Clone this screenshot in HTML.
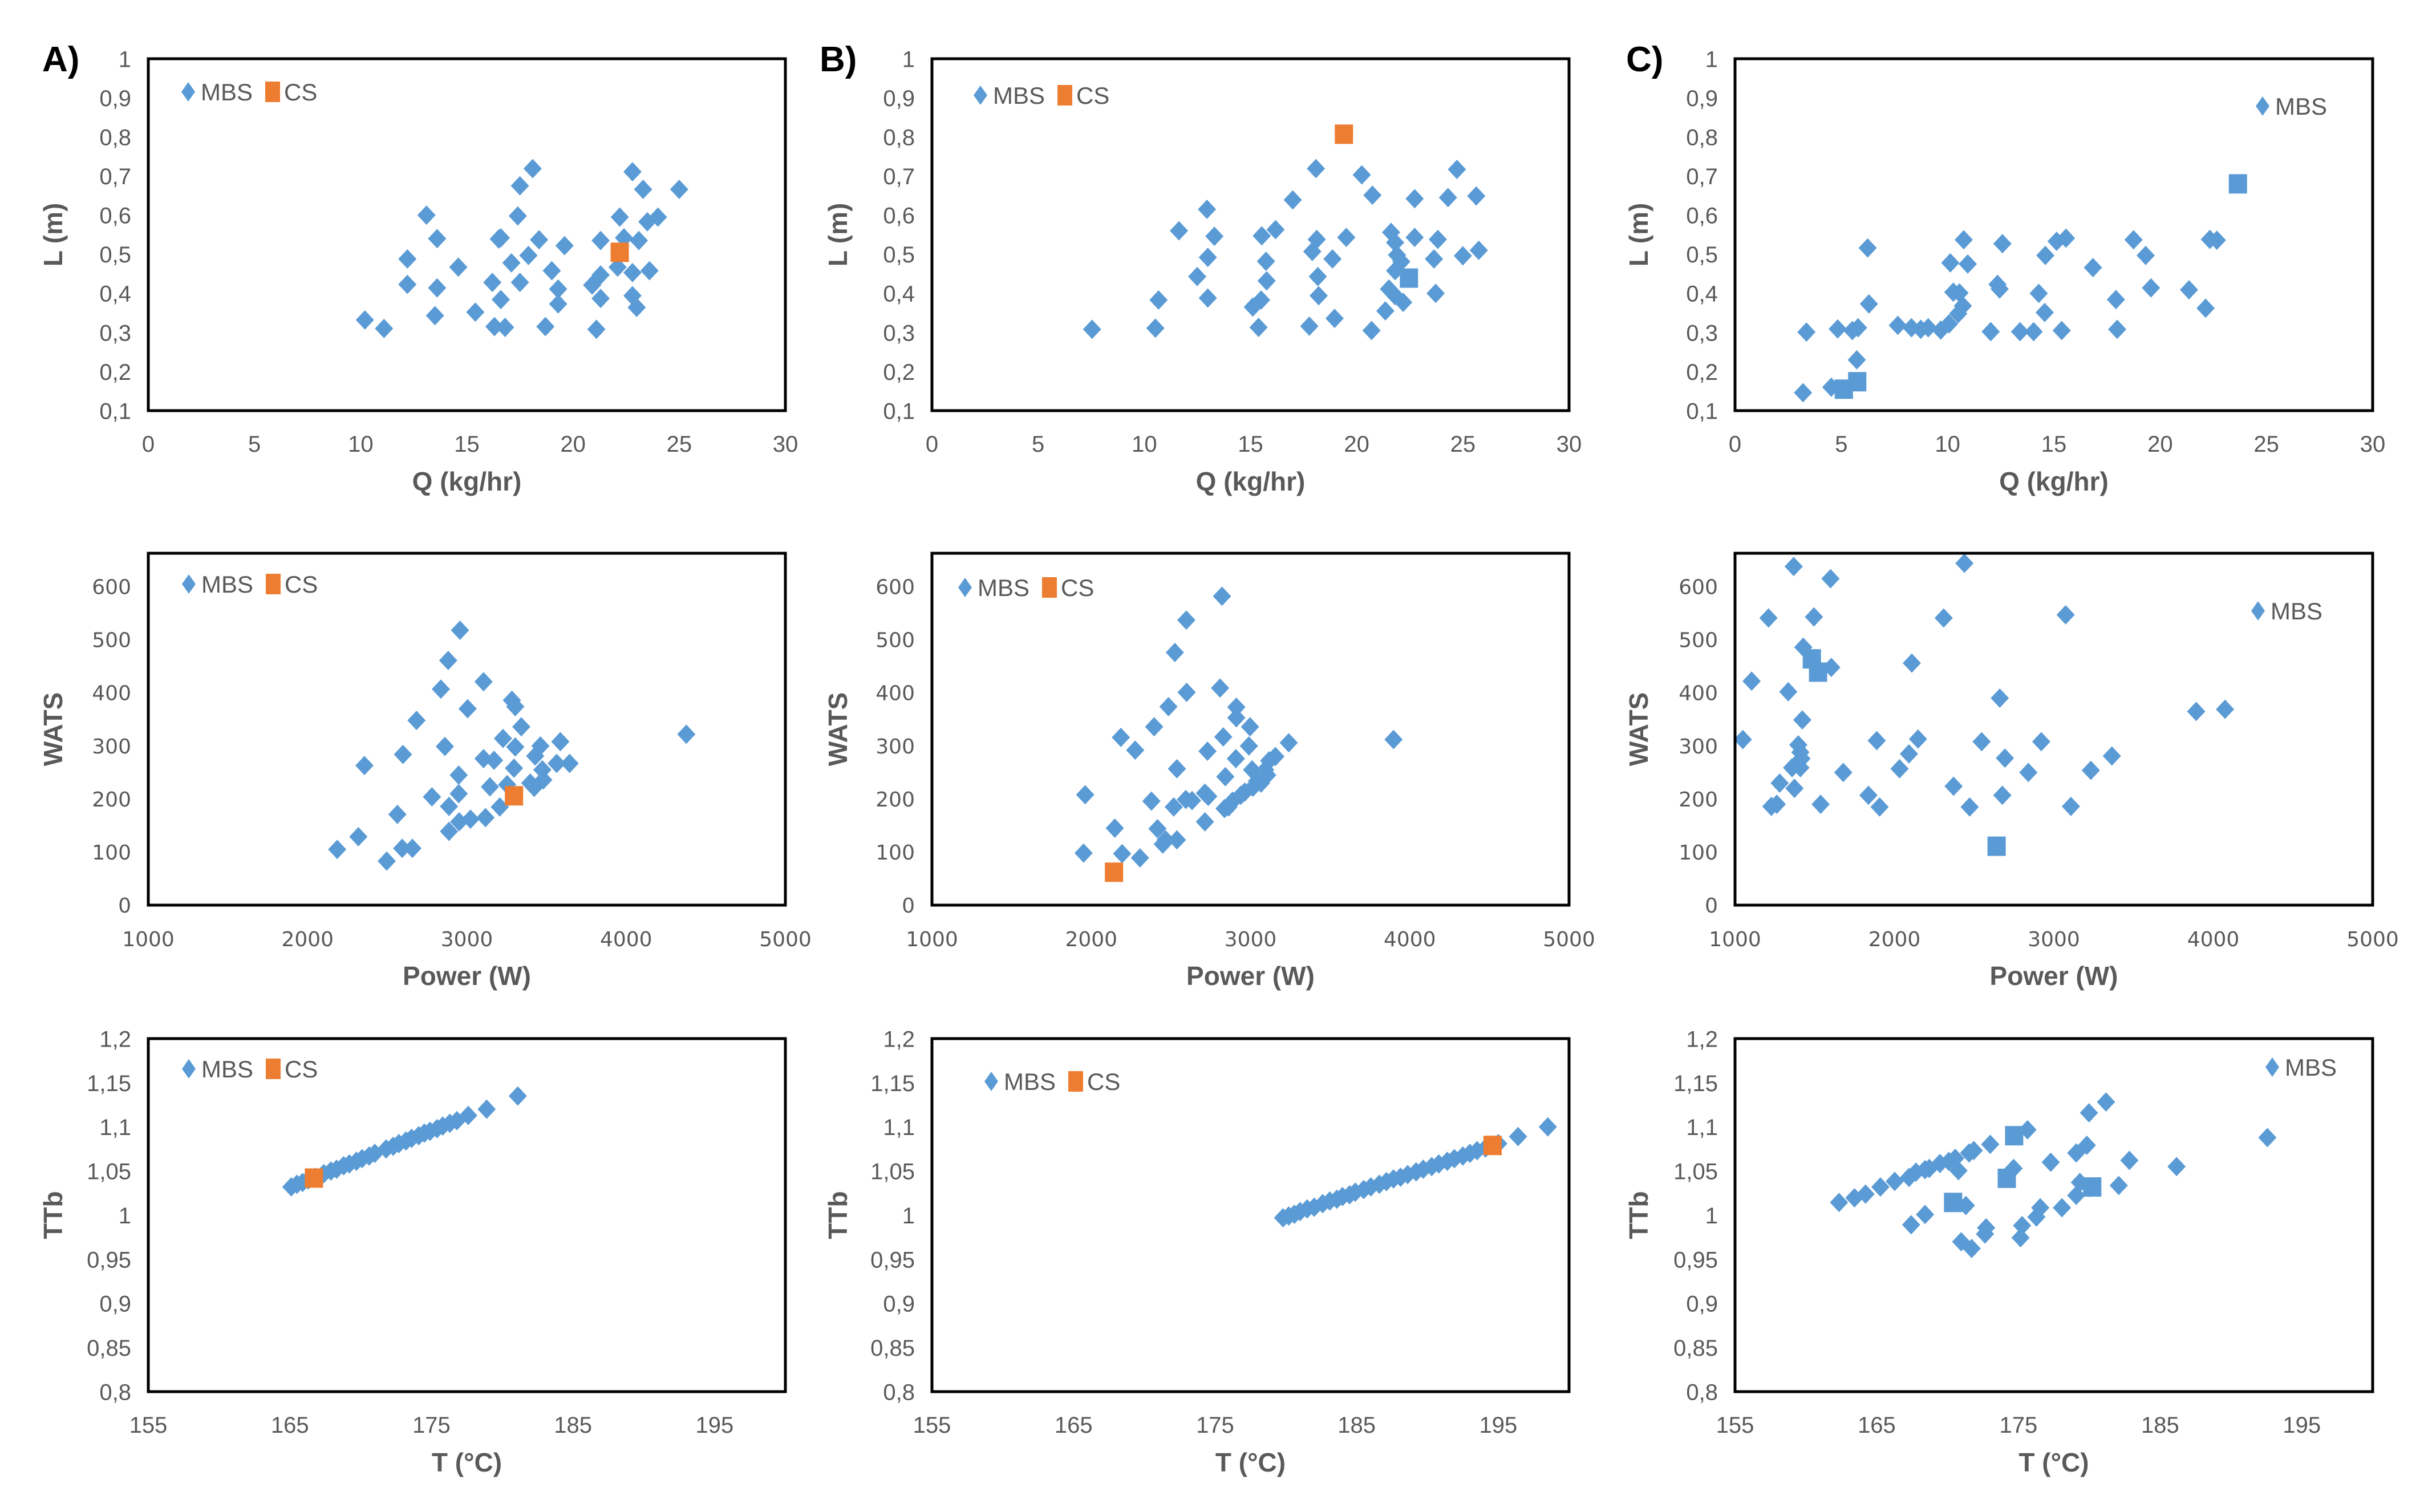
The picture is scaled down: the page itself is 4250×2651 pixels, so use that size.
<!DOCTYPE html>
<html><head><meta charset="utf-8"><style>
html,body{margin:0;padding:0;background:#fff;}
svg{display:block;}
</style></head><body>
<svg id="fig" xmlns="http://www.w3.org/2000/svg" width="4250" height="2651" viewBox="0 0 4250 2651">
<rect width="4250" height="2651" fill="#fff"/>
<g id="root"></g>
</svg>
<script>
// ---------- DATA ----------
const a1Q=[10.2,11.1,12.2,12.2,13.1,13.6,13.6,13.5,14.6,15.4,16.2,16.3,16.5,16.6,16.6,16.8,17.1,17.5,17.4,17.5,17.9,18.1,18.4,18.7,19.0,19.3,19.3,19.6,20.9,21.1,21.3,21.3,21.3,22.1,22.2,22.4,22.8,22.8,22.8,23.0,23.1,23.3,23.5,23.6,24.0,25.0];
const a1L=[0.332,0.310,0.488,0.423,0.600,0.540,0.414,0.343,0.467,0.352,0.428,0.315,0.539,0.542,0.384,0.313,0.478,0.675,0.598,0.428,0.497,0.719,0.537,0.315,0.458,0.411,0.373,0.522,0.421,0.308,0.535,0.447,0.387,0.467,0.595,0.542,0.711,0.453,0.394,0.364,0.535,0.666,0.583,0.458,0.595,0.666];
const a1csQ=[22.2]; const a1csL=[0.505];

const b1Q=[7.54,10.52,10.67,11.63,12.49,12.95,12.99,12.99,13.30,15.11,15.50,15.38,15.53,15.73,15.76,16.18,16.99,17.77,17.91,18.08,18.12,18.17,18.21,18.86,18.96,19.51,20.24,20.74,20.70,21.35,21.52,21.81,22.19,21.62,21.81,21.90,22.10,21.81,22.73,22.73,23.64,23.72,23.82,24.30,24.72,25.00,25.63,25.75];
const b1L=[0.308,0.311,0.383,0.560,0.443,0.615,0.492,0.388,0.546,0.365,0.383,0.313,0.547,0.482,0.432,0.563,0.639,0.316,0.507,0.719,0.538,0.443,0.394,0.488,0.336,0.543,0.703,0.651,0.305,0.355,0.411,0.394,0.377,0.556,0.530,0.498,0.481,0.458,0.642,0.543,0.488,0.400,0.538,0.645,0.717,0.496,0.649,0.510];
const b1sqQ=[22.46]; const b1sqL=[0.439];
const b1csQ=[19.40]; const b1csL=[0.807];

const c1Q=[3.20,4.53,3.36,4.83,5.52,5.79,5.73,6.24,6.30,7.66,8.30,8.74,9.09,9.68,10.07,10.50,10.72,10.13,10.27,10.56,10.76,10.95,12.03,12.35,12.45,12.58,13.41,14.05,14.29,14.57,14.60,15.13,15.57,15.37,16.84,17.92,17.98,18.75,19.32,19.57,21.36,22.14,22.34,22.67];
const c1L=[0.146,0.160,0.301,0.309,0.305,0.312,0.230,0.516,0.373,0.318,0.312,0.308,0.312,0.306,0.322,0.348,0.368,0.478,0.403,0.401,0.537,0.475,0.302,0.423,0.411,0.527,0.302,0.302,0.400,0.351,0.497,0.533,0.541,0.305,0.466,0.384,0.308,0.537,0.497,0.414,0.409,0.362,0.538,0.536];
const c1sqQ=[5.12,5.75,23.66]; const c1sqL=[0.155,0.174,0.680];

const a2P=[2186,2319,2357,2497,2564,2599,2594,2658,2684,2781,2837,2862,2883,2888,2888,2949,2949,2952,2957,3005,3023,3105,3105,3117,3145,3171,3207,3227,3253,3283,3296,3304,3304,3342,3398,3423,3429,3462,3474,3480,3564,3587,3645,4378];
const a2W=[105,129,263,83,171,284,107,107,348,204,407,299,461,186,139,245,210,157,518,370,162,421,276,165,223,273,185,314,227,386,258,298,374,336,230,222,281,300,255,236,267,308,267,322];
const a2csP=[3296]; const a2csW=[206];

const b2P=[1952,1962,2148,2186,2194,2276,2306,2378,2395,2416,2449,2467,2485,2518,2525,2538,2538,2597,2599,2594,2633,2714,2714,2730,2735,2809,2821,2829,2837,2842,2862,2888,2911,2908,2911,2939,2964,2990,2997,3010,3015,3041,3066,3092,3105,3117,3156,3240,3898];
const b2W=[98,208,145,316,97,292,89,196,336,144,115,123,374,185,476,257,123,537,401,199,197,157,211,290,205,409,582,317,182,242,185,196,373,276,353,207,213,300,336,255,222,234,230,255,245,272,280,306,312];
const b2csP=[2143]; const b2csW=[62];

const c2P=[1049,1104,1210,1280,1228,1262,1334,1358,1368,1373,1397,1410,1417,1422,1410,1428,1495,1537,1599,1604,1679,1837,1889,1907,2032,2091,2109,2148,2309,2371,2439,2472,2547,2661,2677,2693,2840,2921,3074,3107,3232,3364,3893,4074];
const c2W=[312,422,541,230,186,190,402,259,638,220,302,288,276,349,259,486,543,190,615,448,250,207,310,185,257,285,456,313,541,224,644,185,308,390,207,277,250,308,547,186,254,281,365,369];
const c2sqP=[1482,1521,2641]; const c2sqW=[464,439,111];

const a3T=[165.1,165.5,165.9,166.3,166.8,167.4,167.9,168.3,168.8,169.2,169.7,170.1,170.6,171.0,171.8,172.3,172.7,173.2,173.6,174.1,174.5,174.9,175.4,175.8,176.3,176.8,177.6,178.9,181.1];
const a3R=[1.032,1.035,1.037,1.040,1.043,1.047,1.050,1.052,1.056,1.058,1.061,1.064,1.067,1.070,1.075,1.078,1.081,1.084,1.087,1.090,1.093,1.095,1.098,1.101,1.104,1.107,1.113,1.120,1.135];
const a3csT=[166.7]; const a3csR=[1.042];

const b3T=[179.8,180.2,180.6,181.0,181.5,182.0,182.6,183.1,183.6,184.0,184.5,184.9,185.5,186.0,186.6,187.1,187.6,188.1,188.6,189.2,189.7,190.3,190.8,191.4,191.9,192.5,193.0,193.5,194.1,195.0,196.4,198.5];
const b3R=[0.997,0.999,1.001,1.004,1.007,1.009,1.013,1.016,1.018,1.021,1.023,1.026,1.029,1.032,1.035,1.038,1.041,1.043,1.046,1.049,1.052,1.055,1.058,1.061,1.064,1.067,1.070,1.073,1.076,1.081,1.089,1.100];
const b3csT=[194.6]; const b3csR=[1.079];

const c3T=[162.34,163.43,164.21,165.26,166.27,167.28,167.77,168.41,168.71,169.46,170.09,170.54,170.77,171.52,171.85,173.01,175.64,177.28,179.08,179.83,179.98,181.18,182.83,186.16,192.57,167.43,168.41,170.96,171.29,171.70,172.72,172.64,175.15,175.26,176.27,176.54,178.07,179.08,179.34,180.02,182.08,174.66];
const c3R=[1.0144,1.0196,1.0238,1.0319,1.0382,1.0427,1.0487,1.0515,1.0529,1.0585,1.0609,1.0644,1.0504,1.0704,1.0732,1.0802,1.0967,1.0599,1.0704,1.0792,1.1159,1.1282,1.0620,1.0550,1.0879,0.9891,1.0007,0.9699,1.0109,0.9622,0.9856,0.9786,0.9744,0.9881,0.9979,1.0084,1.0084,1.0224,1.0371,1.0312,1.0336,1.0529];
const c3sqT=[170.39,174.18,174.70,180.21]; const c3sqR=[1.0144,1.0417,1.0900,1.0319];

// tick arrays
const row1YTicks=[0.1,0.2,0.3,0.4,0.5,0.6,0.7,0.8,0.9,1];
const row1YLabels=["0,1","0,2","0,3","0,4","0,5","0,6","0,7","0,8","0,9","1"];
const row1XTicks=[0,5,10,15,20,25,30];
const row1XLabels=["0","5","10","15","20","25","30"];
const row2YTicks=[0,100,200,300,400,500,600];
const row2YLabels=["0","100","200","300","400","500","600"];
const row2XTicks=[1000,2000,3000,4000,5000];
const row2XLabels=["1000","2000","3000","4000","5000"];
const row3YTicks=[0.8,0.85,0.9,0.95,1,1.05,1.1,1.15,1.2];
const row3YLabels=["0,8","0,85","0,9","0,95","1","1,05","1,1","1,15","1,2"];
const row3XTicks=[155,165,175,185,195];
const row3XLabels=["155","165","175","185","195"];

// ---------- DRAW ----------
const NS="http://www.w3.org/2000/svg";
const root=document.getElementById('root');
const BLUE="#5B9BD5", ORANGE="#ED7D31", GREY="#595959";
function mk(tag,attrs,parent){const e=document.createElementNS(NS,tag);for(const k in attrs)e.setAttribute(k,attrs[k]);(parent||root).appendChild(e);return e;}

const colX=[[260,1377],[1634,2751],[3042,4160]];
const rowY=[[103,720],[970,1587],[1821,2440]];

function diamond(g,x,y,name){
  const p=mk('path',{d:`M${x},${y-17}L${x+16},${y}L${x},${y+17}L${x-16},${y}Z`,fill:BLUE},g);
  
  
}
function square(g,x,y,col,name){
  const r=mk('rect',{x:x-16,y:y-17,width:32,height:34,fill:col},g);
  
  
}

function panel(cfg){
  const [x0,x1]=colX[cfg.col], [y0,y1]=rowY[cfg.row];
  const g=mk('g',{});
  
  
  const sx=v=>x0+(v-cfg.xmin)/(cfg.xmax-cfg.xmin)*(x1-x0);
  const sy=v=>y1-(v-cfg.ymin)/(cfg.ymax-cfg.ymin)*(y1-y0);
  const tf=cfg.row===1?'"DejaVu Sans", sans-serif':'"Liberation Sans", sans-serif';
  const tfs=cfg.row===1?36:40;
  cfg.yt.forEach((v,i)=>{
    const t=mk('text',{x:x0-30,y:sy(v)+tfs*0.36,'text-anchor':'end','font-family':tf,'font-size':tfs,fill:GREY},g);
    t.textContent=cfg.yl[i];
    
    
  });
  cfg.xt.forEach((v,i)=>{
    const t=mk('text',{x:sx(v),y:y1+72,'text-anchor':'middle','font-family':tf,'font-size':tfs,fill:GREY},g);
    t.textContent=cfg.xl[i];
    
    
  });
  const xt=mk('text',{x:(x0+x1)/2,y:y1+140,'text-anchor':'middle','font-family':'"Liberation Sans", sans-serif','font-size':46,'font-weight':'bold',fill:GREY},g);
  xt.textContent=cfg.xtitle;
  
  
  const ytx=cfg.ytitleX, yty=(y0+y1)/2;
  const yt=mk('text',{x:ytx,y:yty,'text-anchor':'middle','font-family':'"Liberation Sans", sans-serif','font-size':46,'font-weight':'bold',fill:GREY,transform:`rotate(-90 ${ytx} ${yty})`},g);
  yt.textContent=cfg.ytitle;
  
  
  cfg.mbs[0].forEach((v,i)=>diamond(g,sx(v),sy(cfg.mbs[1][i]),'mbs-point'));
  if(cfg.mbsSq) cfg.mbsSq[0].forEach((v,i)=>square(g,sx(v),sy(cfg.mbsSq[1][i]),BLUE,'mbs-square-point'));
  if(cfg.cs) cfg.cs[0].forEach((v,i)=>square(g,sx(v),sy(cfg.cs[1][i]),ORANGE,'cs-point'));
  const f=mk('rect',{x:x0,y:y0,width:x1-x0,height:y1-y0,fill:'none',stroke:'#000','stroke-width':5},g);
  
  
  const lg=mk('g',{},g);
  
  
  const lx=x0+cfg.leg[0], ly=y0+cfg.leg[1];
  mk('path',{d:`M${lx},${ly-17}L${lx+12},${ly}L${lx},${ly+17}L${lx-12},${ly}Z`,fill:BLUE},lg);
  const t1=mk('text',{x:lx+22,y:ly+15,'font-family':'"Liberation Sans", sans-serif','font-size':42,fill:GREY},lg);
  t1.textContent='MBS';
  
  
  if(cfg.cs){
    mk('rect',{x:lx+135,y:ly-18,width:26,height:36,fill:ORANGE},lg);
    const t2=mk('text',{x:lx+168,y:ly+15,'font-family':'"Liberation Sans", sans-serif','font-size':42,fill:GREY},lg);
    t2.textContent='CS';
    
    
  }
}

const ytX=[109,1485,2889];
const legs={a1:[70,58],b1:[85,64],c1:[925,83],a2:[71,54],b2:[58,60],c2:[917,101],a3:[71,53],b3:[104,75],c3:[942,50]};
const r1={xmin:0,xmax:30,ymin:0.1,ymax:1,yt:row1YTicks,yl:row1YLabels,xt:row1XTicks,xl:row1XLabels,xtitle:'Q (kg/hr)',ytitle:'L (m)',row:0};
const r2={xmin:1000,xmax:5000,ymin:0,ymax:663,yt:row2YTicks,yl:row2YLabels,xt:row2XTicks,xl:row2XLabels,xtitle:'Power (W)',ytitle:'WATS',row:1};
const r3={xmin:155,xmax:200,ymin:0.8,ymax:1.2,yt:row3YTicks,yl:row3YLabels,xt:row3XTicks,xl:row3XLabels,xtitle:'T (°C)',ytitle:'TTb',row:2};

panel(Object.assign({},r1,{name:'chart-a-q-vs-l',col:0,ytitleX:ytX[0],leg:legs.a1,mbs:[a1Q,a1L],cs:[a1csQ,a1csL]}));
panel(Object.assign({},r1,{name:'chart-b-q-vs-l',col:1,ytitleX:ytX[1],leg:legs.b1,mbs:[b1Q,b1L],mbsSq:[b1sqQ,b1sqL],cs:[b1csQ,b1csL]}));
panel(Object.assign({},r1,{name:'chart-c-q-vs-l',col:2,ytitleX:ytX[2],leg:legs.c1,mbs:[c1Q,c1L],mbsSq:[c1sqQ,c1sqL]}));
panel(Object.assign({},r2,{name:'chart-a-power-vs-wats',col:0,ytitleX:ytX[0],leg:legs.a2,mbs:[a2P,a2W],cs:[a2csP,a2csW]}));
panel(Object.assign({},r2,{name:'chart-b-power-vs-wats',col:1,ytitleX:ytX[1],leg:legs.b2,mbs:[b2P,b2W],cs:[b2csP,b2csW]}));
panel(Object.assign({},r2,{name:'chart-c-power-vs-wats',col:2,ytitleX:ytX[2],leg:legs.c2,mbs:[c2P,c2W],mbsSq:[c2sqP,c2sqW]}));
panel(Object.assign({},r3,{name:'chart-a-t-vs-ttb',col:0,ytitleX:ytX[0],leg:legs.a3,mbs:[a3T,a3R],cs:[a3csT,a3csR]}));
panel(Object.assign({},r3,{name:'chart-b-t-vs-ttb',col:1,ytitleX:ytX[1],leg:legs.b3,mbs:[b3T,b3R],cs:[b3csT,b3csR]}));
panel(Object.assign({},r3,{name:'chart-c-t-vs-ttb',col:2,ytitleX:ytX[2],leg:legs.c3,mbs:[c3T,c3R],mbsSq:[c3sqT,c3sqR]}));

[['A)',74],['B)',1437],['C)',2851]].forEach(([s,x])=>{
  const t=mk('text',{x:x,y:125,'font-family':'"Liberation Sans", sans-serif','font-size':62,'font-weight':'bold',fill:'#000'});
  t.textContent=s;
  
  
});
</script>
</body></html>
